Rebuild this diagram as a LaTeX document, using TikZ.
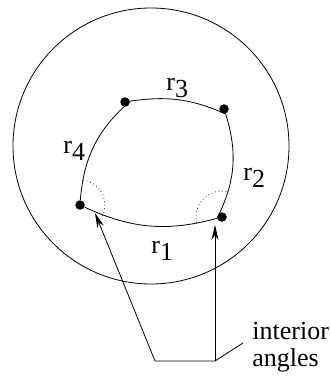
\documentclass[tikz,border=0pt]{standalone}
\usepackage{fontspec}
\setmainfont{Liberation Serif}
\usetikzlibrary{arrows.meta}
\newcommand{\rlab}[1]{r\raisebox{-0.3em}{#1}}

\begin{document}
\begin{tikzpicture}[x=1pt, y=-1pt, line width=0.8pt, >={Stealth[length=15pt,width=7pt]},
    vertex/.style={circle, fill, inner sep=0pt, minimum size=9.5pt},
    lab/.style={font=\fontsize{26}{26.5}\selectfont, inner sep=0pt, anchor=base west},
    angle/.style={line width=0.7pt, dash pattern=on 0.8pt off 2.8pt}]
    \useasboundingbox (0,0) rectangle (331,383);
    \draw (151,146) circle (138);

    \node[vertex] (A) at (125,102) {};
    \node[vertex] (B) at (224,109) {};
    \node[vertex] (C) at (222,217) {};
    \node[vertex] (D) at (80,205) {};
    \draw (D) to[bend right=20] (C) to[bend right=22] (B) to[bend right=16] (A) to[bend right=22] (D);

    \draw[angle] ([shift={(-83:25)}]D.center) arc (-83:29:25);
    \draw[angle] ([shift={(-80:26)}]C.center) arc (-80:-194:26);

    \node[lab] (r1) at (151,253) {\rlab{1}};
    \node[lab] (r2) at (243,180) {\rlab{2}};
    \node[lab] (r3) at (166,90) {\rlab{3}};
    \node[lab] (r4) at (63,153) {\rlab{4}};

    \node[lab, align=left] (ia) at (252,366) {interior\\angles};
    \coordinate (J1) at (155,361);
    \coordinate (J2) at (215,361);
    \coordinate (T1) at (95,213);
    \coordinate (T2) at (215,225);
    \draw[->] (J1) -- (T1);
    \draw[->] (J2) -- (T2);
    \draw (J1) -- (J2) -- ([shift={(-9,-23)}]ia.base west);
\end{tikzpicture}
\end{document}
